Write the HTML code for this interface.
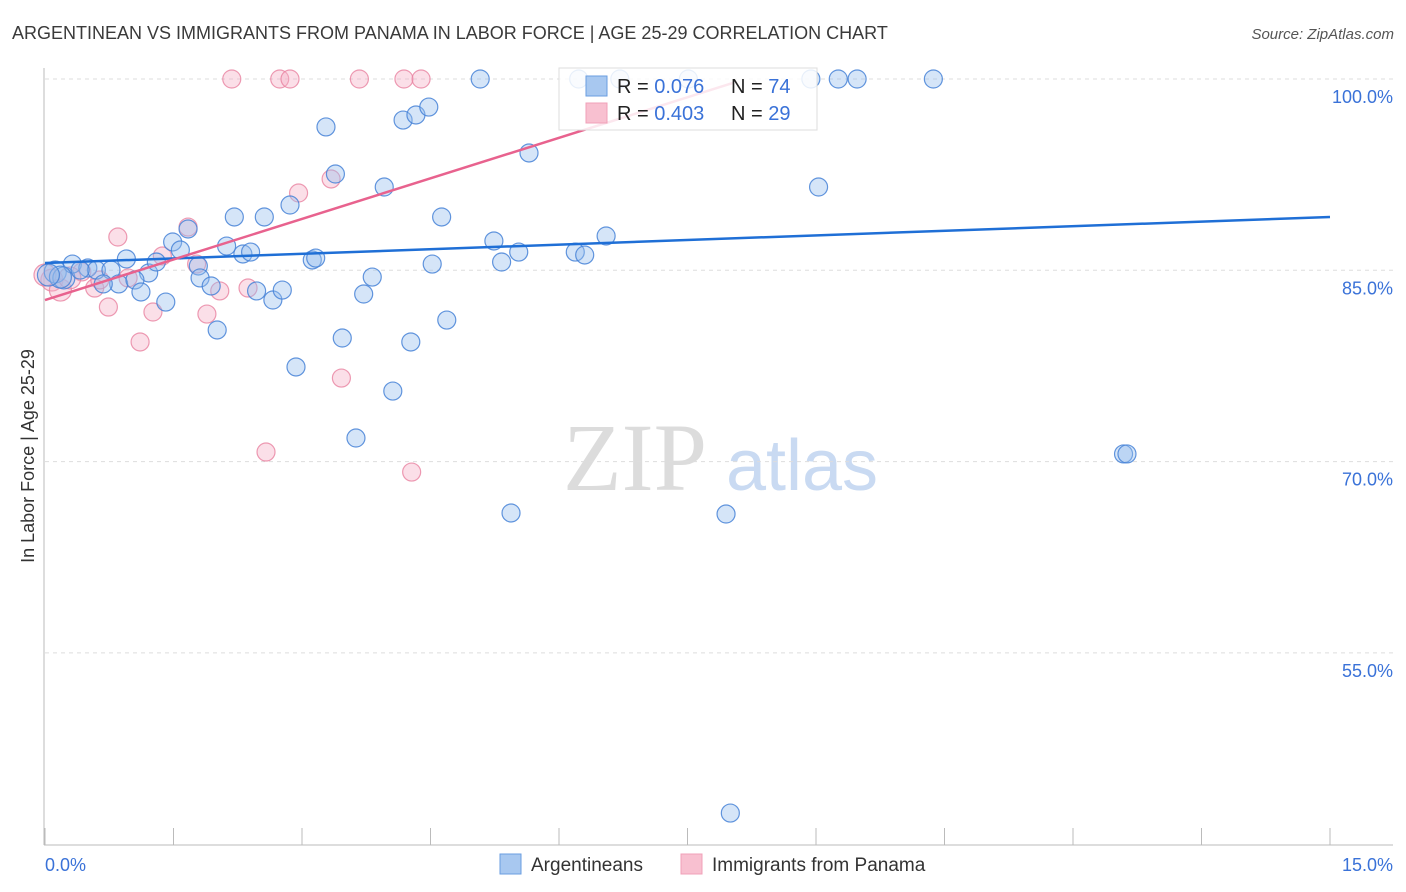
<!DOCTYPE html>
<html><head><meta charset="utf-8"><style>
body{margin:0;background:#fff;font-family:"Liberation Sans",sans-serif}
svg{display:block}
</style></head><body>
<svg id="chart" width="1406" height="892" xmlns="http://www.w3.org/2000/svg" font-family="Liberation Sans, sans-serif">
<text x="12" y="39" font-size="18" fill="#3a3a3a">ARGENTINEAN VS IMMIGRANTS FROM PANAMA IN LABOR FORCE | AGE 25-29 CORRELATION CHART</text>
<text x="1394" y="39" font-size="15" font-style="italic" fill="#555" text-anchor="end">Source: ZipAtlas.com</text>
<g>
<text x="635" y="490" font-size="96" font-family="Liberation Serif, serif" fill="#dcdcdc" text-anchor="middle">ZIP</text>
<text x="802" y="490" font-size="72" fill="#c9daf2" text-anchor="middle">atlas</text>
</g>
<g id="grid"></g>
<g id="axes"></g>
<g id="pts"></g>
<g id="trends"></g>
<text transform="translate(34,456) rotate(-90)" font-size="18" fill="#333" text-anchor="middle">In Labor Force | Age 25-29</text>
<g>
<rect x="559" y="68" width="258" height="62" fill="#fff" fill-opacity="0.85" stroke="#ddd"/>
<rect x="586" y="76" width="21" height="20" fill="#a8c8f0" stroke="#6a9ee0"/>
<rect x="586" y="103" width="21" height="20" fill="#f8c0d0" stroke="#f0a0b8"/>
<text x="617" y="93" font-size="20" fill="#222">R = <tspan fill="#3a72d8">0.076</tspan></text>
<text x="731" y="93" font-size="20" fill="#222">N = <tspan fill="#3a72d8">74</tspan></text>
<text x="617" y="120" font-size="20" fill="#222">R = <tspan fill="#3a72d8">0.403</tspan></text>
<text x="731" y="120" font-size="20" fill="#222">N = <tspan fill="#3a72d8">29</tspan></text>
</g>
<g>
<rect x="500" y="854" width="21" height="20" fill="#a8c8f0" stroke="#6a9ee0"/>
<text x="531" y="871" font-size="19" fill="#333">Argentineans</text></g>
<g>
<rect x="681" y="854" width="21" height="20" fill="#f8c0d0" stroke="#f0a0b8"/>
<text x="712" y="871" font-size="19" fill="#333">Immigrants from Panama</text></g>
</svg>
<script>
const blueX=[5.08,6.23,6.71,7.51,8.94,9.26,9.48,10.37,3.28,4.18,4.33,4.48,5.65,3.39,3.96,9.03,2.21,2.56,2.86,4.63,1.67,1.49,1.58,2.12,2.31,2.40,5.24,5.53,5.33,6.19,6.30,6.55,3.12,3.16,4.52,0.12,0.22,0.32,0.50,0.60,0.77,0.95,1.21,1.30,1.79,1.81,1.94,0.86,0.68,1.05,1.12,1.41,2.01,2.47,2.66,2.77,3.82,3.72,3.47,4.27,4.69,2.93,4.06,3.63,12.59,12.63,5.44,7.95,8.00,0.18,0.41,0.04];
const blueY=[100,100,100,100,100,100,100,100,96.24,96.78,97.18,97.80,94.20,92.55,91.53,91.53,89.18,89.18,90.12,89.18,88.24,87.22,86.59,86.90,86.28,86.43,87.30,86.43,85.65,86.43,86.20,87.69,85.81,85.96,85.49,84.87,84.40,85.49,85.18,85.02,85.02,85.89,84.79,85.65,85.34,84.40,83.77,83.93,83.93,84.24,83.30,82.51,80.32,83.38,82.67,83.45,84.47,83.14,79.69,79.38,81.10,77.42,75.53,71.85,70.60,70.60,65.97,65.89,42.44,84.47,85.02,84.63];
const pinkX=[2.18,2.74,2.86,3.67,4.19,4.39,0.85,1.67,2.96,3.34,1.37,1.77,0.97,0.58,0.74,1.26,2.04,2.37,1.89,1.11,3.46,2.58,4.28,0.08,0.18,0.43,0.29,0.00,0.64];
const pinkY=[100,100,100,100,100,100,87.61,88.39,91.06,92.16,86.12,85.49,84.40,83.61,82.12,81.73,83.38,83.61,81.57,79.38,76.55,70.75,69.18,84.24,83.45,84.87,84.40,84.63,84.24];
const blueTrend=[0,85.57,15,89.18];
const pinkTrend=[0,82.67,8.03,99.69];
const yTicks=[100,85,70,55];
const xTicks=[0,1.5,3,4.5,6,7.5,9,10.5,12,13.5,15];
const NS="http://www.w3.org/2000/svg";
const sx=v=>45+v/15*1285;
const sy=v=>79+(100-v)/15*191.3;
function mk(t,a,p){const e=document.createElementNS(NS,t);for(const k in a)e.setAttribute(k,a[k]);p.appendChild(e);return e;}
const grid=document.getElementById('grid'),axes=document.getElementById('axes'),pts=document.getElementById('pts'),tr=document.getElementById('trends');
yTicks.forEach(v=>{
 const l=mk('line',{x1:45,x2:1393,y1:sy(v),y2:sy(v),stroke:'#ddd','stroke-dasharray':'4,4'},grid);
 
 
 const t=mk('text',{x:1393,y:sy(v)+24,'font-size':18,fill:'#3a72d8','text-anchor':'end'},axes);
 t.textContent=v.toFixed(1)+'%';
 
 
});
const ya=mk('line',{x1:44,x2:44,y1:68,y2:845,stroke:'#bbb'},axes);


const xa=mk('line',{x1:44,x2:1393,y1:845,y2:845,stroke:'#bbb'},axes);


xTicks.forEach(v=>{
 const l=mk('line',{x1:sx(v),x2:sx(v),y1:828,y2:845,stroke:'#bbb'},axes);
 
 
});
const xl0=mk('text',{x:45,y:871,'font-size':18,fill:'#3a72d8'},axes);xl0.textContent=xTicks[0].toFixed(1)+'%';


const xl1=mk('text',{x:1393,y:871,'font-size':18,fill:'#3a72d8','text-anchor':'end'},axes);xl1.textContent=xTicks[xTicks.length-1].toFixed(1)+'%';


function dots(X,Y,fill,stroke,name){X.forEach((x,i)=>{
 const big=x<0.3&&Y[i]>83&&Y[i]<86;
 const c=mk('circle',{cx:sx(x),cy:sy(Y[i]),r:big?11:9,fill:fill,stroke:stroke,'stroke-width':1.2},pts);
 
 
});}
dots(pinkX,pinkY,'rgba(246,176,198,0.4)','rgba(232,130,160,0.8)','point-panama');
dots(blueX,blueY,'rgba(150,190,238,0.4)','rgba(70,130,215,0.85)','point-argentinean');
const bl=mk('line',{x1:sx(blueTrend[0]),y1:sy(blueTrend[1]),x2:sx(blueTrend[2]),y2:sy(blueTrend[3]),stroke:'#1f6fd6','stroke-width':2.5},tr);


const pl=mk('line',{x1:sx(pinkTrend[0]),y1:sy(pinkTrend[1]),x2:sx(pinkTrend[2]),y2:sy(pinkTrend[3]),stroke:'#e8628e','stroke-width':2.5},tr);


</script>
</body></html>
